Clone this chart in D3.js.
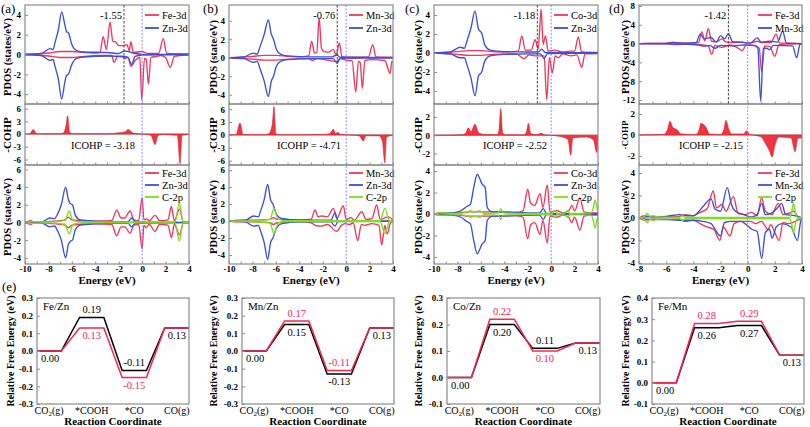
<!DOCTYPE html>
<html><head><meta charset="utf-8">
<script src="https://cdn.jsdelivr.net/npm/d3@7"></script>
<style>body{margin:0;background:#fff}svg{display:block}text{font-family:"Liberation Serif","Times New Roman",serif}</style>
</head><body><svg id="c" width="810" height="427"></svg>
<script>
// ---------------- DATA ----------------
const eTicksABC=[-10,-8,-6,-4,-2,0,2,4];
const eTicksD=[-8,-6,-4,-2,0,2,4];
const dbandCenters=[-1.55,-0.76,-1.18,-1.42];
const icohpValues=[-3.18,-4.71,-2.52,-2.15];
const panelLetters=['(a)','(b)','(c)','(d)','(e)'];

// panel (a) Fe/Zn
const aTopFeUp=[[-10,0],[-9,0.05],[-8,0.15],[-7,0.3],[-6,0.3],[-5,0.2],[-4.2,0.15],[-3.6,0.2],[-3.33,1.8],[-3.05,0.5],[-2.74,3.3],[-2.5,1.3],[-2.3,1.3],[-2.0,0.9],[-1.6,0.9],[-1.3,1.0],[-1.1,0.4],[-0.96,1.3],[-0.75,0.2],[0,0.3],[0.5,0.1],[1.4,0.1],[1.8,1.6],[2.1,0.1],[4,0.05]];
const aTopFeDown=[[-10,0],[-9,-0.05],[-8,-0.15],[-7,-0.3],[-6,-0.3],[-5,-0.2],[-3.8,-0.1],[-2.6,-0.1],[-2.4,-0.8],[-2.1,-0.2],[-1.7,-0.2],[-1.5,-0.4],[-1.2,-0.3],[-0.96,-1.2],[-0.6,-0.6],[-0.2,-0.3],[-0.03,-4.6],[0.2,-0.4],[0.35,-0.5],[0.53,-3.0],[0.75,-0.3],[1.2,-0.2],[1.6,-0.1],[2.0,-0.3],[2.4,-1.3],[2.75,-0.2],[3.2,-0.1],[4,-0.05]];
const aTopZnUp=[[-10,0],[-8.6,0.1],[-7.86,0.6],[-7.6,0.5],[-7.44,1.2],[-7.15,2.5],[-6.87,4.3],[-6.6,3.0],[-6.45,2.3],[-6.3,2.2],[-6.0,1.0],[-5.6,0.4],[-5,0.25],[-3,0.2],[-2,0.1],[-1.5,0.35],[-1.2,0.3],[-0.6,0.1],[0,0.02],[4,0]];
const aTopZnDown=[[-10,0],[-8.6,-0.1],[-7.86,-0.6],[-7.6,-0.5],[-7.44,-1.2],[-7.15,-2.5],[-6.87,-4.5],[-6.6,-2.8],[-6.45,-2.1],[-6.3,-2.0],[-6.0,-1.0],[-5.6,-0.4],[-5,-0.25],[-3,-0.15],[-1.5,-0.2],[-1.2,-0.3],[-0.9,-1.0],[-0.6,-0.2],[0,-0.05],[4,0]];
const aCohp=[[-10,0],[-9.6,0.05],[-9.3,1.1],[-9.0,0.05],[-7,0.05],[-6.7,0.3],[-6.5,2.0],[-6.36,4.3],[-6.2,0.5],[-5.9,0.05],[-3,0.05],[-2,0.3],[-1.5,0.5],[-1.18,1.1],[-0.8,0.3],[-0.3,0.05],[0.5,-0.1],[0.8,-0.5],[1.1,-2.5],[1.35,-0.4],[1.7,-0.1],[2.5,-0.2],[3.0,-0.3],[3.24,-7],[3.4,-0.3],[4,-0.1]];
const aBotFeUp=[[-10,0],[-9.5,0.2],[-9.2,0],[-8,0.1],[-6.6,0.3],[-6.3,0.6],[-6.0,0.3],[-4,0.15],[-2.6,0.2],[-2.17,1.4],[-1.8,0.5],[-1.5,0.5],[-1.03,1.3],[-0.7,0.3],[-0.3,0.2],[0,2.8],[0.15,0.3],[0.35,0.4],[0.6,0.2],[1.1,0.8],[1.5,0.2],[2.2,0.3],[2.5,1.8],[2.75,0.2],[3.2,1.5],[3.5,0.1],[4,0]];
const aBotFeDown=[[-10,0],[-9.5,-0.2],[-9.2,0],[-8,-0.1],[-6.6,-0.3],[-6.3,-0.6],[-6.0,-0.3],[-4,-0.15],[-2.6,-0.2],[-2.17,-1.5],[-1.8,-0.5],[-1.5,-0.5],[-1.03,-1.2],[-0.7,-0.3],[-0.3,-0.2],[0,-3.0],[0.15,-0.3],[0.35,-0.6],[0.6,-0.2],[1.1,-1.0],[1.5,-0.2],[2.2,-0.3],[2.5,-1.7],[2.75,-0.2],[3.2,-1.4],[3.5,-0.1],[4,0]];
const aBotZnUp=[[-10,0],[-8.5,0.1],[-7.86,0.5],[-7.5,0.4],[-7.2,1.0],[-6.9,2.0],[-6.53,4.0],[-6.3,2.6],[-6.1,2.1],[-5.95,2.0],[-5.7,0.8],[-5.3,0.3],[-3,0.1],[-1.2,0.1],[-0.9,0.5],[-0.6,0.1],[4,0]];
const aBotZnDown=[[-10,0],[-8.5,-0.1],[-7.86,-0.5],[-7.5,-0.4],[-7.2,-1.0],[-6.9,-2.0],[-6.53,-4.0],[-6.3,-2.5],[-6.1,-2.1],[-5.95,-2.0],[-5.7,-0.8],[-5.3,-0.3],[-3,-0.1],[-1.2,-0.1],[-0.9,-0.5],[-0.6,-0.1],[4,0]];
const aBotCUp=[[-10,0],[-9.3,0.1],[-8,0.05],[-6.6,0.2],[-6.23,1.3],[-5.9,0.2],[-5,0.05],[2.8,0.05],[3.18,2.2],[3.5,0.05],[4,0]];
const aBotCDown=[[-10,0],[-9.3,-0.1],[-8,-0.05],[-6.6,-0.2],[-6.23,-1.3],[-5.9,-0.2],[-5,-0.05],[2.8,-0.05],[3.18,-2.1],[3.5,-0.05],[4,0]];

// panel (b) Mn/Zn
const bTopMnUp=[[-10,0],[-9,0.05],[-8,0.15],[-7,0.25],[-6,0.25],[-5,0.15],[-4,0.1],[-3.2,0.2],[-2.94,1.8],[-2.7,0.5],[-2.5,0.6],[-2.31,4.3],[-2.1,1.0],[-1.9,0.7],[-1.5,0.6],[-1.1,0.9],[-0.85,0.3],[-0.58,1.6],[-0.35,0.1],[0.5,0.05],[1.9,0.1],[2.27,1.4],[2.55,0.1],[4,0.05]];
const bTopMnDown=[[-10,0],[-9,-0.05],[-8,-0.15],[-7,-0.25],[-6,-0.25],[-5,-0.15],[-3.2,-0.1],[-2.9,-0.3],[-2.5,-0.1],[-0.8,-0.4],[-0.5,-0.1],[0.2,-0.3],[0.5,-0.3],[0.82,-3.7],[1.05,-0.4],[1.2,-0.5],[1.38,-3.3],[1.6,-0.3],[2.2,-0.2],[3.3,-0.3],[3.75,-1.7],[3.9,-0.4],[4,-0.5]];
const bTopZnUp=[[-10,0],[-8.7,0.1],[-7.92,0.5],[-7.6,0.4],[-7.35,1.2],[-7.0,2.5],[-6.64,4.1],[-6.4,2.6],[-6.2,2.0],[-5.95,0.9],[-5.6,0.4],[-5,0.2],[-3,0.1],[-1.2,0.1],[-0.8,0.3],[-0.5,0.05],[4,0]];
const bTopZnDown=[[-10,0],[-8.7,-0.1],[-7.92,-0.5],[-7.6,-0.4],[-7.35,-1.2],[-7.0,-2.5],[-6.64,-4.2],[-6.4,-2.6],[-6.2,-2.0],[-5.95,-0.9],[-5.6,-0.4],[-5,-0.2],[-3,-0.1],[-1.1,-0.1],[-0.77,-0.6],[-0.5,-0.05],[4,0]];
const bCohp=[[-10,0],[-9.4,0.05],[-9.06,2.8],[-8.8,0.05],[-7,0.05],[-6.6,0.3],[-6.3,2.5],[-6.16,6.6],[-6.0,0.3],[-5.7,0.05],[-4,0.05],[-2,0.1],[-1.4,0.3],[-1.09,1.3],[-0.9,0.3],[-0.7,0.6],[-0.5,0.1],[0.3,0],[1.1,-0.2],[1.47,-1.4],[1.7,-0.2],[2.8,-0.2],[3.1,-1.5],[3.3,-6.5],[3.45,-0.5],[4,-0.1]];
const bBotMnUp=[[-10,0],[-9.2,0.1],[-8,0.1],[-6.5,0.2],[-6.2,0.4],[-5.9,0.2],[-4,0.15],[-3,0.2],[-2.65,1.3],[-2.4,0.5],[-2.1,0.6],[-1.6,0.5],[-1.09,1.5],[-0.8,0.3],[-0.24,1.8],[0,0.2],[0.4,0.4],[0.7,0.1],[1.33,1.1],[1.7,0.2],[2.2,0.3],[2.61,1.9],[2.9,0.2],[3.6,0.5],[4,0.1]];
const bBotMnDown=[[-10,0],[-9.2,-0.1],[-8,-0.1],[-6.5,-0.2],[-6.2,-0.4],[-5.9,-0.2],[-4,-0.1],[-3,-0.2],[-2.65,-0.5],[-2.2,-0.6],[-1.6,-0.4],[-0.8,-1.2],[-0.4,-0.5],[-0.1,-0.3],[0.3,-0.4],[0.6,-0.2],[0.99,-2.3],[1.3,-0.4],[1.6,-0.5],[2.2,-0.3],[2.8,-0.5],[3.04,-2.8],[3.3,-0.5],[3.5,-1.5],[3.8,-0.2],[4,-0.1]];
const bBotZnUp=[[-10,0],[-8.6,0.1],[-7.9,0.6],[-7.5,0.5],[-7.3,1.2],[-7.0,2.5],[-6.7,4.3],[-6.45,2.5],[-6.25,2.0],[-5.95,0.8],[-5.5,0.3],[-4,0.1],[-1.3,0.1],[-0.95,1.0],[-0.7,0.05],[4,0]];
const bBotZnDown=[[-10,0],[-8.6,-0.1],[-7.9,-0.6],[-7.5,-0.5],[-7.3,-1.2],[-7.0,-2.5],[-6.7,-4.5],[-6.45,-2.5],[-6.25,-2.0],[-5.95,-0.8],[-5.5,-0.3],[-4,-0.1],[-1.3,-0.1],[-0.95,-0.6],[-0.7,-0.05],[4,0]];
const bBotCUp=[[-10,0],[-8,0.05],[-6.5,0.2],[-6.16,1.5],[-5.8,0.2],[-5,0.05],[2.9,0.05],[3.3,1.5],[3.7,0.05],[4,0]];
const bBotCDown=[[-10,0],[-8,-0.05],[-6.5,-0.2],[-6.16,-1.5],[-5.8,-0.2],[-5,-0.05],[2.9,-0.05],[3.3,-1.5],[3.7,-0.05],[4,0]];

// panel (c) Co/Zn
const cTopCoUp=[[-10,0],[-9,0.05],[-8,0.15],[-7,0.25],[-6,0.25],[-5,0.15],[-4,0.1],[-2.8,0.2],[-2.51,1.8],[-2.2,0.3],[-1.7,0.3],[-1.37,1.4],[-1.1,0.4],[-0.86,4.6],[-0.68,0.9],[-0.49,1.8],[-0.25,0.2],[0.3,0.3],[1.0,0.1],[1.6,0.2],[2.0,0.2],[2.32,1.7],[2.6,0.1],[4,0.05]];
const cTopCoDown=[[-10,0],[-9,-0.05],[-8,-0.15],[-7,-0.25],[-6,-0.25],[-5,-0.15],[-3,-0.1],[-2.3,-0.6],[-1.9,-0.2],[-1.37,-0.3],[-0.6,-0.3],[-0.38,-4.9],[-0.15,-0.5],[0.1,-2.1],[0.35,-0.3],[0.6,-0.5],[1.0,-0.1],[1.7,-0.3],[2.2,-0.2],[2.61,-1.5],[2.9,-0.1],[4,-0.05]];
const cTopZnUp=[[-10,0],[-8.6,0.1],[-7.78,0.6],[-7.4,0.5],[-7.2,1.2],[-6.85,2.6],[-6.5,4.4],[-6.2,2.5],[-5.93,2.1],[-5.65,0.8],[-5.2,0.3],[-4,0.15],[-2,0.1],[-1.1,0.1],[-0.8,0.4],[-0.5,0.05],[4,0]];
const cTopZnDown=[[-10,0],[-8.6,-0.1],[-7.78,-0.5],[-7.4,-0.5],[-7.2,-1.2],[-6.85,-2.6],[-6.5,-4.5],[-6.2,-2.4],[-5.93,-2.0],[-5.65,-0.8],[-5.2,-0.3],[-4,-0.15],[-2,-0.1],[-0.9,-0.1],[-0.6,-0.6],[-0.3,-0.05],[4,0]];
const cCohp=[[-10,0],[-7.6,0.05],[-7.3,0.2],[-7.07,0.8],[-6.85,0.4],[-6.5,1.2],[-6.2,0.3],[-5.8,0.1],[-4.6,0.05],[-4.45,0.5],[-4.3,2.9],[-4.15,0.3],[-3.9,0.05],[-2.3,0.05],[-2.1,0.4],[-1.94,1.3],[-1.75,0.2],[-1.3,0.05],[-0.8,0.2],[-0.6,0.05],[0.3,-0.05],[1.0,-0.2],[1.45,-0.5],[1.67,-2.2],[1.85,-0.3],[3.0,-0.2],[3.6,-0.5],[3.9,-1.9],[4,-0.5]];
const cBotCoUp=[[-10,0],[-9.5,0.1],[-8,0.1],[-7,0.2],[-6,0.2],[-4.5,0.2],[-3,0.15],[-2.4,0.3],[-2.0,2.3],[-1.75,1.0],[-1.4,0.8],[-0.95,1.9],[-0.7,0.6],[-0.33,2.7],[-0.1,0.2],[0.5,0.3],[1.0,0.1],[1.5,0.3],[1.76,0.8],[2.0,0.3],[2.47,1.5],[2.8,0.2],[3.5,0.1],[4,0.1]];
const cBotCoDown=[[-10,0],[-9.5,-0.1],[-8,-0.1],[-7,-0.2],[-6,-0.2],[-4.5,-0.2],[-3,-0.15],[-2.4,-0.3],[-2.0,-2.3],[-1.75,-1.0],[-1.4,-0.8],[-0.95,-1.9],[-0.7,-0.6],[-0.33,-2.7],[-0.1,-0.2],[0.5,-0.3],[1.0,-0.1],[1.5,-0.3],[1.76,-0.8],[2.0,-0.3],[2.47,-1.5],[2.8,-0.2],[3.5,-0.1],[4,-0.1]];
const cBotZnUp=[[-10,0],[-8.5,0.1],[-7.7,0.3],[-7.2,0.7],[-6.9,0.9],[-6.6,2.5],[-6.3,3.7],[-6.1,3.3],[-5.9,2.8],[-5.64,2.5],[-5.45,0.6],[-5,0.2],[-3,0.15],[-1,0.1],[-0.67,0.5],[-0.4,0.05],[4,0]];
const cBotZnDown=[[-10,0],[-8.5,-0.1],[-7.7,-0.3],[-7.2,-0.7],[-6.9,-0.9],[-6.6,-2.5],[-6.3,-3.7],[-6.1,-3.3],[-5.9,-2.8],[-5.64,-2.5],[-5.45,-0.6],[-5,-0.2],[-3,-0.15],[-1,-0.1],[-0.67,-0.5],[-0.4,-0.05],[4,0]];
const cBotCUp=[[-10,0],[-9.5,0.1],[-8,0.05],[-7.2,0.15],[-6.9,0.3],[-6.5,0.2],[-6.1,0.3],[-5.7,0.05],[-4.5,0.1],[-4.3,0.5],[-4.1,0.1],[-2,0.05],[0.1,0.05],[0.3,0.3],[0.5,0.05],[1.2,0.1],[1.4,0.3],[1.6,0.05],[3.4,0.1],[3.6,0.6],[3.75,1.3],[3.9,0.6],[4,0.2]];
const cBotCDown=[[-10,0],[-9.5,-0.1],[-8,-0.05],[-7.2,-0.15],[-6.9,-0.3],[-6.5,-0.2],[-6.1,-0.3],[-5.7,-0.05],[-4.5,-0.1],[-4.3,-0.5],[-4.1,-0.1],[-2,-0.05],[0.1,-0.05],[0.3,-0.3],[0.5,-0.05],[1.2,-0.1],[1.4,-0.3],[1.6,-0.05],[3.4,-0.1],[3.6,-0.6],[3.75,-1.3],[3.9,-0.6],[4,-0.2]];

// panel (d) Fe/Mn
const dTopFeUp=[[-8,0],[-6,0.05],[-5.5,0.3],[-5,0.1],[-4,0.1],[-3.6,0.3],[-3.38,2.5],[-3.15,0.6],[-2.9,3.2],[-2.65,0.5],[-2.3,0.4],[-1.9,1.0],[-1.6,0.3],[-1.0,0.2],[-0.4,0.3],[0,0.1],[0.4,0.2],[0.7,0.5],[1.0,0.2],[1.7,0.2],[2.09,2.0],[2.35,0.1],[3,0.1],[4,0]];
const dTopFeDown=[[-8,0],[-6,-0.05],[-5.5,-0.2],[-4,-0.1],[-3.3,-0.3],[-2.9,-0.5],[-2.65,-2.3],[-2.4,-0.4],[-1.9,-0.8],[-1.3,-0.3],[-0.8,-0.8],[-0.39,-1.5],[-0.1,-0.3],[0.6,-0.5],[0.85,-1.0],[1.03,-6.0],[1.25,-0.5],[1.6,-0.6],[2.0,-2.7],[2.3,-0.3],[3.0,-0.1],[4,0]];
const dTopMnUp=[[-8,0],[-6,0.05],[-5.5,0.2],[-4.5,0.1],[-3.8,0.2],[-3.5,2.0],[-3.2,1.0],[-2.7,1.3],[-2.3,0.3],[-2.0,1.7],[-1.7,1.0],[-1.42,2.1],[-1.1,0.4],[-0.5,0.3],[0.2,0.1],[0.7,1.2],[1.0,0.3],[1.6,0.5],[2.2,0.3],[2.58,2.6],[2.85,0.1],[4,0]];
const dTopMnDown=[[-8,0],[-6,-0.05],[-5,-0.1],[-3.6,-0.3],[-3.2,-0.6],[-2.8,-0.4],[-2.4,-1.0],[-2.0,-0.4],[-1.0,-0.5],[-0.3,-0.3],[0.5,-0.4],[0.75,-1.0],[0.96,-12.3],[1.15,-1.0],[1.4,-1.0],[1.6,-1.3],[1.9,-0.4],[3.3,-0.5],[3.61,-3.0],[3.85,-0.2],[4,0]];
const dCohp=[[-8,0],[-6.2,0.05],[-5.9,0.5],[-5.72,1.3],[-5.5,0.7],[-5.2,0.5],[-4.9,0.1],[-3.8,0.05],[-3.55,0.6],[-3.45,1.1],[-3.1,0.8],[-2.8,0.1],[-2.0,0.05],[-1.75,0.5],[-1.6,1.4],[-1.4,0.6],[-1.2,0.1],[-0.3,0.1],[-0.07,0.4],[0.15,0.05],[0.6,-0.05],[1.0,-0.2],[1.3,-0.8],[1.6,-1.5],[1.8,-2.1],[2.0,-1.0],[2.3,-0.2],[3.2,-0.3],[3.49,-1.6],[3.7,-0.3],[4,-0.3]];
const dBotFeUp=[[-8,0],[-7.6,0.2],[-7,0.1],[-6,0.1],[-5,0.15],[-4.6,0.3],[-4,0.2],[-3.5,0.5],[-3.0,0.8],[-2.53,2.4],[-2.3,0.9],[-1.9,1.2],[-1.6,0.6],[-1.05,1.9],[-0.7,0.4],[-0.2,0.3],[0.3,0.5],[0.7,0.2],[1.03,1.8],[1.3,0.6],[1.8,0.3],[2.0,0.8],[2.26,1.3],[2.6,0.3],[3.0,0.4],[3.4,0.6],[3.7,0.1],[4,0]];
const dBotFeDown=[[-8,0],[-7.6,-0.2],[-7,-0.1],[-6,-0.1],[-5,-0.15],[-4.6,-0.3],[-4,-0.2],[-3.5,-0.5],[-3.0,-0.8],[-2.5,-1.0],[-2.04,-2.0],[-1.8,-0.8],[-1.3,-1.6],[-1.0,-0.5],[-0.5,-0.3],[0.2,-0.3],[0.6,-0.5],[1.0,-0.3],[1.5,-1.0],[1.7,-0.6],[2.0,-1.3],[2.31,-2.0],[2.6,-0.4],[3.0,-0.5],[3.5,-0.3],[4,0]];
const dBotMnUp=[[-8,0],[-7.5,0.1],[-6,0.15],[-5.0,0.3],[-4.5,0.2],[-4,0.2],[-3.3,1.0],[-2.7,1.7],[-2.4,0.8],[-2.0,0.6],[-1.5,2.7],[-1.2,1.2],[-0.9,0.6],[-0.3,0.3],[0.3,0.1],[0.7,0.3],[1.03,1.3],[1.3,0.3],[1.7,0.4],[2.2,0.9],[2.5,1.3],[2.8,0.3],[3.5,0.2],[4,0]];
const dBotMnDown=[[-8,0],[-7.5,-0.1],[-6,-0.15],[-5,-0.2],[-4,-0.2],[-3.3,-0.3],[-2.7,-0.5],[-2.0,-1.6],[-1.7,-0.4],[-1.2,-0.3],[-0.5,-0.3],[-0.2,-0.5],[0.3,-1.0],[0.7,-1.2],[1.03,-3.6],[1.3,-1.3],[1.6,-1.0],[1.8,-1.8],[2.1,-0.8],[2.5,-0.5],[3.2,-0.8],[3.66,-2.0],[3.9,-0.3],[4,0]];
const dBotCUp=[[-8,0],[-7.6,0.15],[-7.4,0.4],[-7.2,0.15],[-7.0,0.2],[-6.5,0.1],[-5,0.05],[-4.8,0.2],[-4.6,0.05],[-1,0.05],[3.1,0.05],[3.25,0.6],[3.37,1.3],[3.5,0.6],[3.65,0.05],[4,0]];
const dBotCDown=[[-8,0],[-7.6,-0.15],[-7.4,-0.4],[-7.2,-0.15],[-7.0,-0.2],[-6.5,-0.1],[-5,-0.05],[-4.8,-0.2],[-4.6,-0.05],[-1,-0.05],[3.1,-0.05],[3.25,-0.6],[3.37,-1.3],[3.5,-0.6],[3.65,-0.05],[4,0]];

// panel (e) free energy profiles
const states=['CO2(g)','*COOH','*CO','CO(g)'];
const profileNames=['Fe/Zn','Mn/Zn','Co/Zn','Fe/Mn'];
const feZnBlack=[0,0.19,-0.11,0.13], feZnRed=[0,0.13,-0.15,0.13];
const mnZnBlack=[0,0.15,-0.13,0.13], mnZnRed=[0,0.17,-0.11,0.13];
const coZnBlack=[0,0.20,0.11,0.13],  coZnRed=[0,0.22,0.10,0.13];
const feMnBlack=[0,0.26,0.27,0.13],  feMnRed=[0,0.28,0.29,0.13];
// which series label sits above the levels at *COOH and *CO
const feZnAbove=['black','black'], mnZnAbove=['red','red'], coZnAbove=['red','black'], feMnAbove=['red','red'];
const ticksE12=[0.3,0.2,0.1,0.0,-0.1,-0.2,-0.3];
const ticksE3=[0.3,0.2,0.1,0.0,-0.1];
const ticksE4=[0.4,0.3,0.2,0.1,0.0,-0.1];

// ---------------- DRAW ----------------
const RED='#f0365a', BLUE='#3d4ed8', GREEN='#7ae01c', FRAME='#8c8c8c';
const PRED='#f5274f';
const svg=d3.select('#c');
let clipId=0;

const pdosPanels=[
 {x0:25,x1:189,eDom:[-10,4],eTicks:eTicksABC,titleX:7,unit:'states',cohpFont:11,icohpX:103,
  top:{dom:[-5,5],ticks:[4,2,0,-2,-4],ser:[['Fe-3d',RED,aTopFeUp,aTopFeDown],['Zn-3d',BLUE,aTopZnUp,aTopZnDown]]},
  cohp:{dom:[-7.3,7.1],ticks:[6,3,0,-3,-6],data:aCohp},
  bot:{dom:[-4.7,6.5],ticks:[6,4,2,0,-2,-4],ser:[['Fe-3d',RED,aBotFeUp,aBotFeDown],['Zn-3d',BLUE,aBotZnUp,aBotZnDown],['C-2p',GREEN,aBotCUp,aBotCDown]]}},
 {x0:229,x1:393,eDom:[-10,4],eTicks:eTicksABC,titleX:213,unit:'state',cohpFont:11,icohpX:309,
  top:{dom:[-5,5.7],ticks:[4,2,0,-2,-4],ser:[['Mn-3d',RED,bTopMnUp,bTopMnDown],['Zn-3d',BLUE,bTopZnUp,bTopZnDown]]},
  cohp:{dom:[-7.0,7.2],ticks:[6,3,0,-3,-6],data:bCohp},
  bot:{dom:[-5.05,6.6],ticks:[6,4,2,0,-2,-4],ser:[['Mn-3d',RED,bBotMnUp,bBotMnDown],['Zn-3d',BLUE,bBotZnUp,bBotZnDown],['C-2p',GREEN,bBotCUp,bBotCDown]]}},
 {x0:434,x1:598,eDom:[-10,4],eTicks:eTicksABC,titleX:418,unit:'state',cohpFont:11,icohpX:515,
  top:{dom:[-5.37,5.05],ticks:[4,2,0,-2,-4],ser:[['Co-3d',RED,cTopCoUp,cTopCoDown],['Zn-3d',BLUE,cTopZnUp,cTopZnDown]]},
  cohp:{dom:[-3.25,3.4],ticks:[2,0,-2],data:cCohp},
  bot:{dom:[-4.65,4.56],ticks:[4,2,0,-2,-4],ser:[['Co-3d',RED,cBotCoUp,cBotCoDown],['Zn-3d',BLUE,cBotZnUp,cBotZnDown],['C-2p',GREEN,cBotCUp,cBotCDown]]}},
 {x0:639,x1:802,eDom:[-8,4],eTicks:eTicksD,titleX:625,unit:'state',cohpFont:9,icohpX:711,
  top:{dom:[-12.85,8.2],ticks:[8,4,0,-4,-8,-12],ser:[['Fe-3d',RED,dTopFeUp,dTopFeDown],['Mn-3d',BLUE,dTopMnUp,dTopMnDown]]},
  cohp:{dom:[-2.86,2.95],ticks:[2,0,-2],data:dCohp},
  bot:{dom:[-4.09,4.71],ticks:[4,2,0,-2,-4],ser:[['Fe-3d',RED,dBotFeUp,dBotFeDown],['Mn-3d',BLUE,dBotMnUp,dBotMnDown],['C-2p',GREEN,dBotCUp,dBotCDown]]}}
];

function styleAxis(g){
  g.attr('font-family',null).attr('font-size',null);
  g.select('.domain').remove();
  g.selectAll('.tick line').attr('stroke',FRAME).attr('stroke-width',1);
  g.selectAll('.tick text').attr('font-size',9).attr('font-weight','bold').attr('fill','#000');
}
function addClip(x0,y0,x1,y1){
  const id='cl'+(clipId++);
  svg.append('clipPath').attr('id',id).append('rect').attr('x',x0).attr('y',y0).attr('width',x1-x0).attr('height',y1-y0);
  return 'url(#'+id+')';
}

pdosPanels.forEach((p,pi)=>{
  const x=d3.scaleLinear().domain(p.eDom).range([p.x0,p.x1]);
  const subs=[{y0:5,y1:104,k:'top'},{y0:104,y1:165,k:'cohp'},{y0:165,y1:264,k:'bot'}];
  const minor=d3.range(p.eDom[0],p.eDom[1]+0.001,1);
  subs.forEach((s,si)=>{
    const cfg=p[s.k];
    const y=d3.scaleLinear().domain(cfg.dom).range([s.y1,s.y0]);
    const g=svg.append('g');
    const clip=addClip(p.x0,s.y0,p.x1,s.y1);
    const gc=g.append('g').attr('clip-path',clip);
    if(s.k==='cohp'){
      gc.append('line').attr('x1',p.x0).attr('x2',p.x1).attr('y1',y(0)).attr('y2',y(0)).attr('stroke','#999').attr('stroke-width',1);
      const area=d3.area().x(d=>x(d[0])).y0(y(0)).y1(d=>y(d[1])).curve(d3.curveMonotoneX);
      gc.append('path').datum(cfg.data).attr('d',area).attr('fill','#f2323f').attr('stroke','#d8202e').attr('stroke-width',0.6);
    } else {
      const line=d3.line().x(d=>x(d[0])).y(d=>y(d[1])).curve(d3.curveMonotoneX);
      cfg.ser.forEach(sr=>{
        [sr[2],sr[3]].forEach(arr=>{
          gc.append('path').datum(arr).attr('d',line).attr('fill','none').attr('stroke',sr[1]).attr('stroke-width',1.35).attr('stroke-linejoin','round');
        });
      });
      // legend
      const ly0=s.k==='top'?15:173, ldy=s.k==='top'?13:12;
      cfg.ser.forEach((sr,i)=>{
        const yy=ly0+i*ldy;
        g.append('line').attr('x1',p.x1-44).attr('x2',p.x1-30).attr('y1',yy).attr('y2',yy).attr('stroke',sr[1]).attr('stroke-width',1.8);
        g.append('text').attr('x',p.x1-27).attr('y',yy+3.8).attr('font-size',10.5).text(sr[0]);
      });
    }
    const ya=g.append('g').attr('transform',`translate(${p.x0},0)`).call(d3.axisLeft(y).tickValues(cfg.ticks).tickSize(-3).tickPadding(4).tickFormat(d=>String(d)));
    styleAxis(ya);
    const xa=g.append('g').attr('transform',`translate(0,${s.y1})`).call(d3.axisBottom(x).tickValues(minor).tickSize(-2.5).tickFormat(''));
    styleAxis(xa);
    if(s.k==='bot'){
      const xl=g.append('g').attr('transform',`translate(0,${s.y1})`).call(d3.axisBottom(x).tickValues(p.eTicks).tickSize(0).tickPadding(1.5).tickFormat(d=>String(d)));
      styleAxis(xl);
    }
    g.append('rect').attr('x',p.x0).attr('y',s.y0).attr('width',p.x1-p.x0).attr('height',s.y1-s.y0).attr('fill','none').attr('stroke',FRAME).attr('stroke-width',1.2);
  });
  svg.append('line').attr('x1',x(0)).attr('x2',x(0)).attr('y1',5).attr('y2',264).attr('stroke','#7d7dff').attr('stroke-width',0.9).attr('stroke-dasharray','2,1.5');
  const xd=x(dbandCenters[pi]);
  svg.append('line').attr('x1',xd).attr('x2',xd).attr('y1',5).attr('y2',104).attr('stroke','#444').attr('stroke-width',1).attr('stroke-dasharray','2.5,1.5');
  svg.append('text').attr('x',xd-2).attr('y',19).attr('text-anchor','end').attr('font-size',10.5).text(dbandCenters[pi].toFixed(2));
  svg.append('text').attr('x',p.icohpX).attr('y',149).attr('text-anchor','middle').attr('font-size',10.5).text('ICOHP = '+icohpValues[pi].toFixed(2));
  const ttl=(txt,yc,fs)=>svg.append('text').attr('transform',`translate(${p.titleX},${yc}) rotate(-90)`).attr('text-anchor','middle').attr('dominant-baseline','central').attr('font-size',fs).attr('font-weight','bold').text(txt);
  ttl(`PDOS (${p.unit}/eV)`,57,10.5);
  ttl('-COHP',135,p.cohpFont);
  ttl(`PDOS (${p.unit}/eV)`,217,10.5);
  svg.append('text').attr('x',(p.x0+p.x1)/2).attr('y',284).attr('text-anchor','middle').attr('font-size',11).attr('font-weight','bold').text('Energy (eV)');
});
[[1,13],[203,13],[405,13],[609,13],[2,291]].forEach((pos,i)=>{
  svg.append('text').attr('x',pos[0]).attr('y',pos[1]).attr('font-size',13).text(panelLetters[i]);
});

const profiles=[
 {x0:37,x1:189,dom:[-0.3,0.3],ticks:ticksE12,black:feZnBlack,red:feZnRed,above:feZnAbove,titleX:10},
 {x0:242,x1:394,dom:[-0.3,0.3],ticks:ticksE12,black:mnZnBlack,red:mnZnRed,above:mnZnAbove,titleX:213},
 {x0:447,x1:600,dom:[-0.1,0.3],ticks:ticksE3,black:coZnBlack,red:coZnRed,above:coZnAbove,titleX:418},
 {x0:652,x1:804,dom:[-0.1,0.4],ticks:ticksE4,black:feMnBlack,red:feMnRed,above:feMnAbove,titleX:625}
];
const hw=0.285;
profiles.forEach((p,pi)=>{
  const x=d3.scaleLinear().domain([-hw,3+hw]).range([p.x0,p.x1]);
  const y=d3.scaleLinear().domain(p.dom).range([404,298]);
  const g=svg.append('g');
  const pts=vals=>vals.flatMap((v,i)=>[[i-hw,v],[i+hw,v]]);
  const line=d3.line().x(d=>x(d[0])).y(d=>y(d[1]));
  g.append('path').datum(pts(p.black)).attr('d',line).attr('fill','none').attr('stroke','#000').attr('stroke-width',1.5);
  g.append('path').datum(pts(p.red)).attr('d',line).attr('fill','none').attr('stroke',PRED).attr('stroke-width',1.5);
  const ya=g.append('g').attr('transform',`translate(${p.x0},0)`).call(d3.axisLeft(y).tickValues(p.ticks).tickSize(-3).tickPadding(4).tickFormat(d=>d.toFixed(1)));
  styleAxis(ya);
  g.append('rect').attr('x',p.x0).attr('y',298).attr('width',p.x1-p.x0).attr('height',106).attr('fill','none').attr('stroke',FRAME).attr('stroke-width',1.2);
  states.forEach((s,i)=>{
    const t=g.append('text').attr('x',x(i)).attr('y',414).attr('text-anchor','middle').attr('font-size',10);
    if(s==='CO2(g)'){t.append('tspan').text('CO');t.append('tspan').attr('font-size',7).attr('dy',2).text('2');t.append('tspan').attr('dy',-2).text('(g)');}
    else t.text(s);
  });
  const lab=(txt,xx,yy,col)=>g.append('text').attr('x',xx).attr('y',yy).attr('text-anchor','middle').attr('font-size',10.5).attr('fill',col).text(txt);
  [0,3].forEach(i=>lab(p.black[i].toFixed(2),x(i)+(i===0?1:0),y(p.black[i])+11,'#000'));
  [1,2].forEach(i=>{
    const hi=Math.max(p.black[i],p.red[i]), lo=Math.min(p.black[i],p.red[i]);
    const upIsRed=p.above[i-1]==='red';
    const upV=upIsRed?p.red[i]:p.black[i], dnV=upIsRed?p.black[i]:p.red[i];
    lab(upV.toFixed(2),x(i),y(hi)-4,upIsRed?PRED:'#000');
    lab(dnV.toFixed(2),x(i),y(lo)+11,upIsRed?'#000':PRED);
  });
  g.append('text').attr('x',p.x0+6).attr('y',310).attr('font-size',11).text(profileNames[pi]);
  svg.append('text').attr('transform',`translate(${p.titleX},351) rotate(-90)`).attr('text-anchor','middle').attr('dominant-baseline','central').attr('font-size',10).attr('font-weight','bold').text('Relative Free Energy (eV)');
  svg.append('text').attr('x',(p.x0+p.x1)/2).attr('y',425).attr('text-anchor','middle').attr('font-size',11).attr('font-weight','bold').text('Reaction Coordinate');
});
</script></body></html>
